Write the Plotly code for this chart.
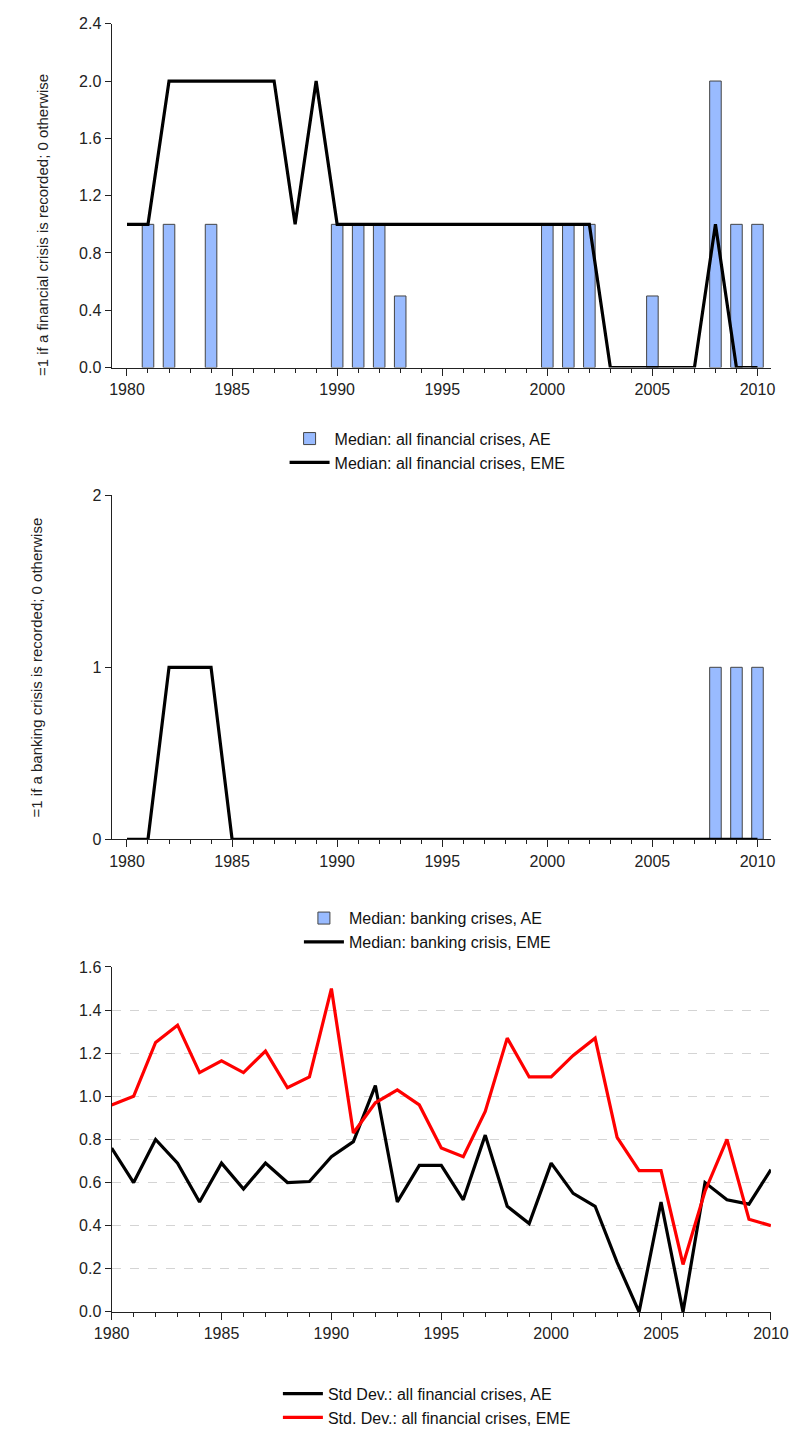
import plotly.graph_objects as go

years = list(range(1980, 2011))

# Panel 1: all financial crises
fin_ae = [0, 1, 1, 0, 1, 0, 0, 0, 0, 0, 1, 1, 1, 0.5, 0, 0, 0, 0, 0, 0,
          1, 1, 1, 0, 0, 0.5, 0, 0, 2, 1, 1]
fin_eme = [1, 1, 2, 2, 2, 2, 2, 2, 1, 2, 1, 1, 1, 1, 1, 1, 1, 1, 1, 1,
           1, 1, 1, 0, 0, 0, 0, 0, 1, 0, 0]

# Panel 2: banking crises
bank_ae = [0] * 28 + [1, 1, 1]
bank_eme = [0, 0, 1, 1, 1] + [0] * 26

# Panel 3: standard deviations
sd_ae = [0.76, 0.60, 0.80, 0.69, 0.51, 0.69, 0.57, 0.69, 0.60, 0.605,
         0.72, 0.79, 1.05, 0.51, 0.68, 0.68, 0.52, 0.82, 0.49, 0.41,
         0.69, 0.55, 0.49, 0.23, 0.0, 0.51, 0.0, 0.60, 0.52, 0.50, 0.66]
sd_eme = [0.96, 1.00, 1.25, 1.33, 1.11, 1.165, 1.11, 1.21, 1.04, 1.09,
          1.50, 0.83, 0.97, 1.03, 0.96, 0.76, 0.72, 0.93, 1.27, 1.09,
          1.09, 1.19, 1.27, 0.81, 0.655, 0.655, 0.22, 0.56, 0.80, 0.43, 0.40]

W, H = 809, 1435
FONT = "Liberation Sans, Arial, sans-serif"
BAR_FILL = "#99BBFF"
BAR_LINE = "#444444"
AX = "#222222"

def px(x):
    return x / W

def py(y):
    return 1 - y / H

def nz(vals):
    # zero-height bars are not drawn
    return [v if v else None for v in vals]

fig = go.Figure()

# Panel 1
fig.add_trace(go.Bar(x=years, y=nz(fin_ae), width=0.55, name="Median: all financial crises, AE",
                     marker=dict(color=BAR_FILL, line=dict(color=BAR_LINE, width=1)),
                     xaxis="x", yaxis="y", legend="legend"))
fig.add_trace(go.Scatter(x=years, y=fin_eme, mode="lines", name="Median: all financial crises, EME",
                         line=dict(color="black", width=3.2), xaxis="x", yaxis="y", legend="legend"))
# Panel 2
fig.add_trace(go.Bar(x=years, y=nz(bank_ae), width=0.55, name="Median: banking crises, AE",
                     marker=dict(color=BAR_FILL, line=dict(color=BAR_LINE, width=1)),
                     xaxis="x2", yaxis="y2", legend="legend2"))
fig.add_trace(go.Scatter(x=years, y=bank_eme, mode="lines", name="Median: banking crisis, EME",
                         line=dict(color="black", width=3.2), xaxis="x2", yaxis="y2", legend="legend2"))
# Panel 3
fig.add_trace(go.Scatter(x=years, y=sd_ae, mode="lines", name="Std Dev.: all financial crises, AE",
                         line=dict(color="black", width=3.2), xaxis="x3", yaxis="y3", legend="legend3"))
fig.add_trace(go.Scatter(x=years, y=sd_eme, mode="lines", name="Std. Dev.: all financial crises, EME",
                         line=dict(color="#FF0000", width=3.2), xaxis="x3", yaxis="y3", legend="legend3"))

tickfont = dict(family=FONT, size=16, color=AX)

def xaxis(rng, anchor):
    return dict(domain=[px(98), px(788)], range=rng, anchor=anchor,
                showgrid=False, zeroline=False, showline=True, linecolor=AX, linewidth=1.2,
                ticks="outside", ticklen=7, tickwidth=1, tickcolor=AX,
                tickvals=[1980, 1985, 1990, 1995, 2000, 2005, 2010], tickfont=tickfont,
                minor=dict(dtick=1, tick0=1980, ticks="outside", ticklen=4, tickcolor=AX, showgrid=False))

def yaxis(top, bottom, rng, tv, fmt, anchor, grid=False):
    d = dict(domain=[py(bottom), py(top)], range=rng, anchor=anchor,
             zeroline=False, showline=True, linecolor=AX, linewidth=1.2,
             ticks="outside", ticklen=6, tickwidth=1, tickcolor=AX,
             tickvals=tv, ticktext=[fmt.format(v) for v in tv], tickfont=tickfont)
    if grid:
        d.update(showgrid=True, gridcolor="#d4d4d4", gridwidth=1, griddash="dash")
    else:
        d.update(showgrid=False)
    return d

top_ticks = [0.0, 0.4, 0.8, 1.2, 1.6, 2.0, 2.4]
mid_ticks = [0, 1, 2]
bot_ticks = [0.0, 0.2, 0.4, 0.6, 0.8, 1.0, 1.2, 1.4, 1.6]

legfont = dict(family=FONT, size=16, color="#111111")

fig.update_layout(
    width=W, height=H, margin=dict(l=0, r=0, t=0, b=0),
    paper_bgcolor="white", plot_bgcolor="white",
    barmode="overlay",
    xaxis=xaxis([1979.27, 2010.64], "y"),
    yaxis=yaxis(16, 366, [0, 2.4], top_ticks, "{:.1f}", "x"),
    xaxis2=xaxis([1979.27, 2010.64], "y2"),
    yaxis2=yaxis(496, 846, [0, 2], mid_ticks, "{:d}", "x2"),
    xaxis3=xaxis([1980, 2010], "y3"),
    yaxis3=yaxis(976, 1327, [0, 1.6], bot_ticks, "{:.1f}", "x3", grid=True),
    legend=dict(x=px(279), y=py(421), xanchor="left", yanchor="top", font=legfont,
                bgcolor="rgba(0,0,0,0)", tracegroupgap=0, itemwidth=40),
    legend2=dict(x=px(294), y=py(909), xanchor="left", yanchor="top", font=legfont,
                 bgcolor="rgba(0,0,0,0)", tracegroupgap=0, itemwidth=40),
    legend3=dict(x=px(272), y=py(1393), xanchor="left", yanchor="top", font=legfont,
                 bgcolor="rgba(0,0,0,0)", tracegroupgap=0, itemwidth=40),
    showlegend=True,
    annotations=[
        dict(text="=1 if a financial crisis is recorded; 0 otherwise", textangle=-90,
             x=px(25), y=py(221), xref="paper", yref="paper", showarrow=False,
             xanchor="center", yanchor="middle", font=dict(family=FONT, size=15, color=AX)),
        dict(text="=1 if a banking crisis is recorded; 0 otherwise", textangle=-90,
             x=px(19), y=py(671), xref="paper", yref="paper", showarrow=False,
             xanchor="center", yanchor="middle", font=dict(family=FONT, size=15, color=AX)),
    ],
)

fig.write_html("out.html")
